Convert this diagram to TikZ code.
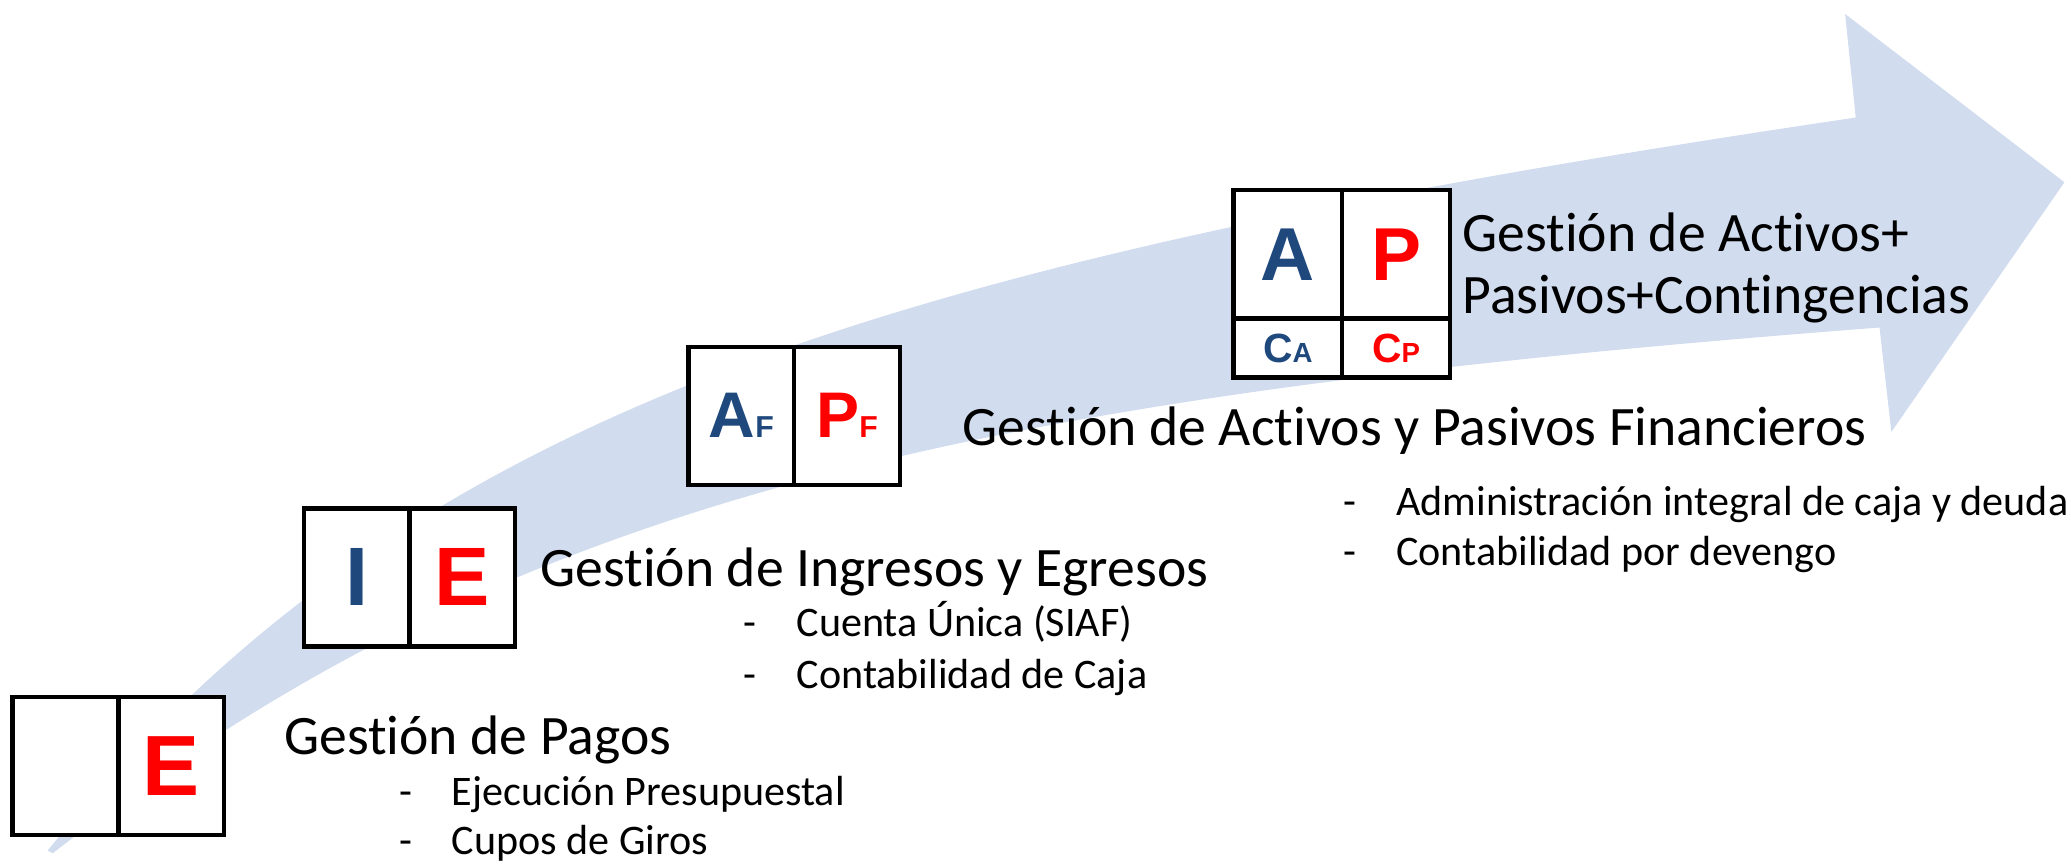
\documentclass[tikz,border=0pt]{standalone}
\usepackage{fontspec}
\setmainfont{Carlito}[Ligatures=NoCommon]
\newfontfamily\arialfont{Liberation Sans}
\usepackage{tikz}
\definecolor{arrowfill}{RGB}{209,220,239}
\definecolor{darkblue}{RGB}{31,73,125}
\definecolor{brightred}{RGB}{255,0,0}

\begin{document}
\begin{tikzpicture}[line join=bevel,
  cell/.style={draw,fill=white,line width=3.4bp,line join=miter,inner sep=0pt,minimum width=80bp,minimum height=104.5bp,font=\arialfont\bfseries},
  head/.style={anchor=base west,inner sep=0pt,font=\fontsize{42.3}{46}\selectfont},
  entry/.style={anchor=base west,inner sep=0pt,font=\fontsize{32}{38}\selectfont},
]
%%
\useasboundingbox (0bp,0bp) rectangle (1568bp,654bp);
\fill [arrowfill] (1405bp,565bp) -- (1397bp,643.4bp) -- (1563bp,516bp) -- (1432bp,327bp) -- (1423bp,406bp)
  .. controls (717bp,352bp) and (378bp,273bp) .. (40bp,8bp) -- (36bp,10bp)
  .. controls (302bp,335bp) and (635bp,451bp) .. (1405bp,565bp) -- cycle;
%
\node (node_0) at (49.6bp,74.2bp) [cell] {};
  \node (node_1) at (129.6bp,74.2bp) [cell,text=brightred] {\fontsize{65}{65}\selectfont E};
  \node (node_2) at (270bp,216.8bp) [cell,text=darkblue] {\fontsize{63}{63}\selectfont I};
  \node (node_3) at (350bp,216.8bp) [cell,text=brightred] {\fontsize{63}{63}\selectfont E};
  \node (node_4) at (561.3bp,339.2bp) [cell,text=darkblue] {\fontsize{49}{49}\selectfont A{\fontsize{23}{23}\selectfont F}};
  \node (node_5) at (641.3bp,339.2bp) [cell,text=brightred] {\fontsize{49}{49}\selectfont P{\fontsize{23}{23}\selectfont F}};
  \node (node_6) at (975bp,461.5bp) [cell,minimum width=82bp,minimum height=97bp,text=darkblue] {\fontsize{57}{57}\selectfont A};
  \node (node_7) at (1057bp,461.5bp) [cell,minimum width=82bp,minimum height=97bp,text=brightred] {\fontsize{57}{57}\selectfont P};
  \node (node_8) at (975bp,390.5bp) [cell,minimum width=82bp,minimum height=45bp,text=darkblue] {\fontsize{31}{31}\selectfont C{\fontsize{21}{21}\selectfont A}};
  \node (node_9) at (1057bp,390.5bp) [cell,minimum width=82bp,minimum height=45bp,text=brightred] {\fontsize{31}{31}\selectfont C{\fontsize{21}{21}\selectfont P}};
%
\node (node_10) at (215bp,82.4bp) [head] {Gestión de Pagos};
  \node (node_11) at (302bp,44.5bp) [entry] {\makebox[40bp][l]{-}Ejecución Presupuestal};
  \node (node_12) at (302bp,7bp) [entry] {\makebox[40bp][l]{-}Cupos de Giros};
  \node (node_13) at (409bp,210bp) [head] {Gestión de Ingresos y Egresos};
  \node (node_14) at (563bp,172bp) [entry] {\makebox[40bp][l]{-}Cuenta Única (SIAF)};
  \node (node_15) at (563bp,133bp) [entry] {\makebox[40bp][l]{-}Contabilidad de Caja};
  \node (node_16) at (728.8bp,317bp) [head] {Gestión de Activos y Pasivos Financieros};
  \node (node_17) at (1017bp,264bp) [entry] {\makebox[40bp][l]{-}Administración integral de caja y deuda};
  \node (node_18) at (1017bp,226.2bp) [entry] {\makebox[40bp][l]{-}Contabilidad por devengo};
  \node (node_19) at (1107bp,463.5bp) [head] {Gestión de Activos+};
  \node (node_20) at (1107bp,417bp) [head] {Pasivos+Contingencias};
%
\end{tikzpicture}
\end{document}
